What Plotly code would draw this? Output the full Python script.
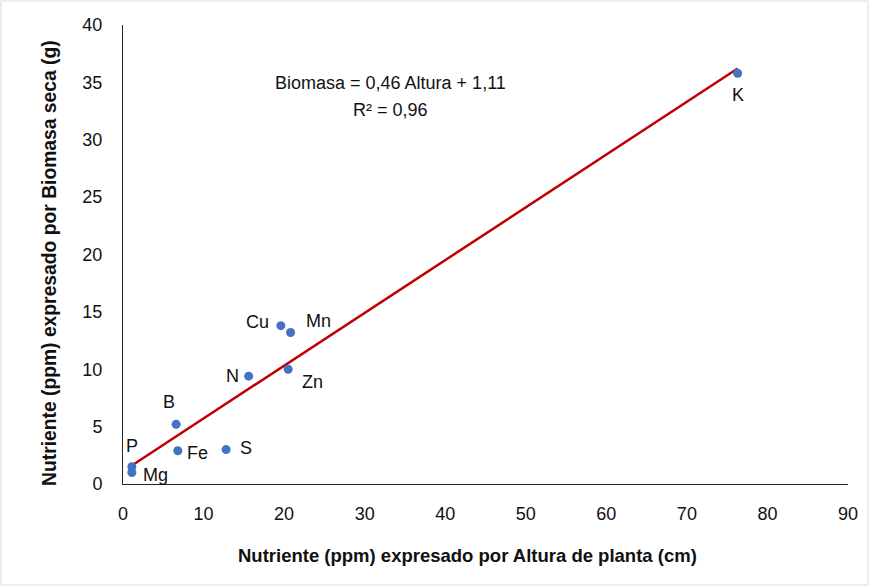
import plotly.graph_objects as go

# Data
nutrients = ["K", "Cu", "Mn", "N", "Zn", "B", "Fe", "S", "P", "Mg"]
altura = [76.3, 19.6, 20.8, 15.6, 20.5, 6.6, 6.8, 12.8, 1.1, 1.1]
biomasa = [35.8, 13.8, 13.2, 9.4, 10.0, 5.2, 2.9, 3.0, 1.5, 1.0]
slope = 0.46
intercept = 1.11
r2 = 0.96
x_title = "Nutriente (ppm) expresado por Altura de planta (cm)"
y_title = "Nutriente (ppm) expresado por Biomasa seca (g)"

# label offsets (pixels) for each point label
label_dx = [0, -23, 28, -16, 24, -7, 20, 20, 0, 24]
label_dy = [-22, 4, 12, 0, -13, 22, -2, 2, 21, -2]

FONT = "Liberation Sans, Arial, sans-serif"

fig = go.Figure()

xmin, xmax = min(altura), max(altura)
fig.add_trace(go.Scatter(
    x=[xmin, xmax],
    y=[slope * xmin + intercept, slope * xmax + intercept],
    mode="lines",
    line=dict(color="#C00000", width=2.5),
    hoverinfo="skip",
))

fig.add_trace(go.Scatter(
    x=altura, y=biomasa, mode="markers",
    marker=dict(color="#4472C4", size=9),
))

for n, xv, yv, dx, dy in zip(nutrients, altura, biomasa, label_dx, label_dy):
    fig.add_annotation(x=xv, y=yv, text=n, showarrow=False, xshift=dx, yshift=dy,
                       font=dict(size=18, color="#111111", family=FONT))

fig.add_annotation(
    x=33.2, y=34.95, yanchor="middle",
    text=f"Biomasa = {str(slope).replace('.', ',')} Altura + {str(intercept).replace('.', ',')}",
    showarrow=False, align="center",
    font=dict(size=18, color="#111111", family=FONT),
)
fig.add_annotation(
    x=33.2, y=32.6, yanchor="middle",
    text=f"R² = {str(r2).replace('.', ',')}",
    showarrow=False, align="center",
    font=dict(size=18, color="#111111", family=FONT),
)

# axis titles
fig.add_annotation(xref="paper", yref="paper", x=0.4745, y=-0.1547,
                   xanchor="center", yanchor="middle", showarrow=False,
                   text=f"<b>{x_title}</b>",
                   font=dict(size=18.5, color="#111111", family=FONT))
fig.add_annotation(xref="paper", yref="paper", x=-0.1007, y=0.4815,
                   xanchor="center", yanchor="middle", showarrow=False,
                   textangle=-90, text=f"<b>{y_title}</b>",
                   font=dict(size=19.3, color="#111111", family=FONT))

L, R, T, B = 123, 21, 25, 102
W, H = 869, 586
pw, ph = W - L - R, H - T - B
fig.add_shape(type="rect", xref="paper", yref="paper",
              x0=-(L - 1) / pw, x1=1 + (R - 1) / pw,
              y0=-(B - 1) / ph, y1=1 + (T - 1) / ph,
              line=dict(color="#D9D9D9", width=1))

fig.update_layout(
    width=W, height=H,
    margin=dict(l=L, r=R, t=T, b=B),
    paper_bgcolor="white", plot_bgcolor="white",
    showlegend=False,
    font=dict(family=FONT, size=18, color="#111111"),
    xaxis=dict(
        range=[0, 90], tickvals=list(range(0, 91, 10)),
        showgrid=False, zeroline=False,
        showline=True, linecolor="#262626", linewidth=1,
        ticks="", ticklabelstandoff=13,
        tickfont=dict(size=18),
    ),
    yaxis=dict(
        range=[0, 40], tickvals=list(range(0, 41, 5)),
        showgrid=False, zeroline=False,
        showline=True, linecolor="#262626", linewidth=1,
        ticks="", ticklabelstandoff=16,
        tickfont=dict(size=18),
    ),
)

fig.write_html("out.html")
